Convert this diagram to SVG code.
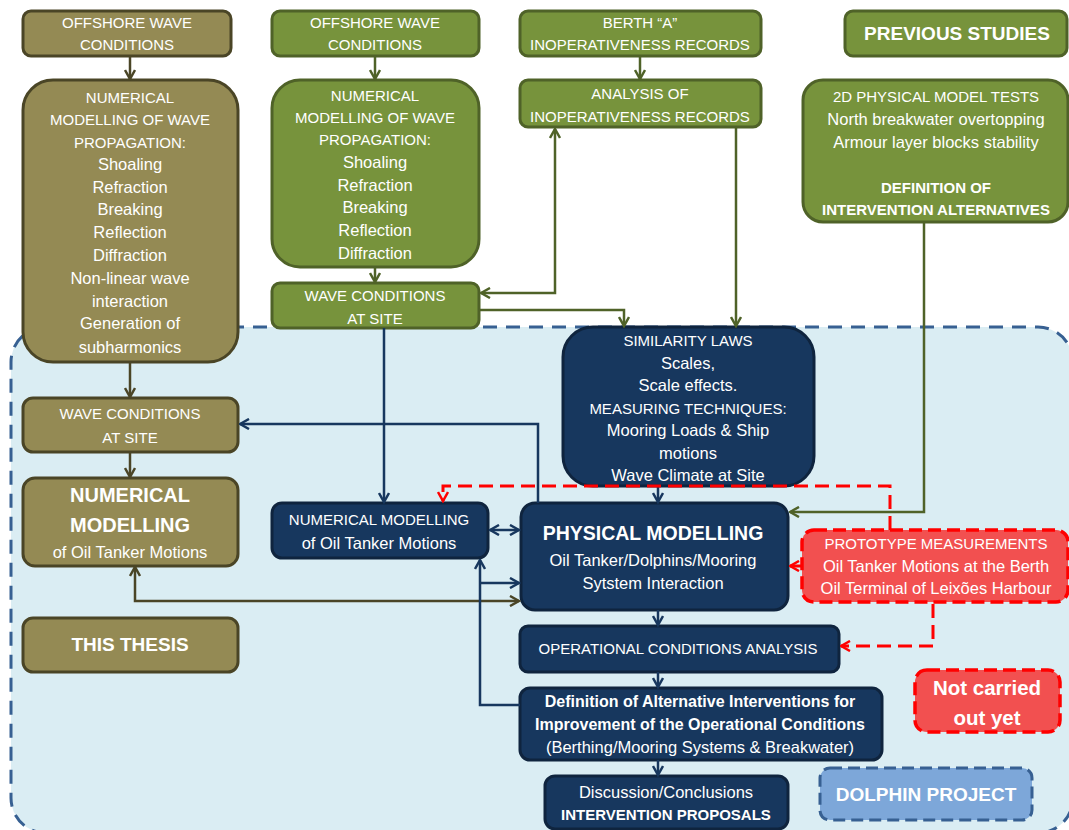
<svg xmlns="http://www.w3.org/2000/svg" width="1069" height="830" viewBox="0 0 1069 830">
<style>
text{font-family:"Liberation Sans",Arial,sans-serif;fill:#FFFFFF;text-anchor:middle;dominant-baseline:central;font-size:15px}
.b{font-weight:bold}
.l{font-size:16.5px}
.ol{fill:#948A54;stroke:#4A4526;stroke-width:3}
.gr{fill:#77933C;stroke:#4F6228;stroke-width:3}
.nv{fill:#17375E;stroke:#0F243E;stroke-width:3}
.rd{fill:#F25050;stroke:#FF0000;stroke-width:3.5;stroke-dasharray:13 6}
.bl{fill:#7DA7D9;stroke:#376092;stroke-width:3;stroke-dasharray:12 6}
.co{fill:none;stroke:#4A4526;stroke-width:2.5}
.cg{fill:none;stroke:#4F6228;stroke-width:2.5}
.cn{fill:none;stroke:#17375E;stroke-width:2.5}
.cr{fill:none;stroke:#FF0000;stroke-width:3;stroke-dasharray:14 7}
</style>
<defs>
<marker id="mo" viewBox="0 0 12 12" refX="10.5" refY="6" markerWidth="12" markerHeight="12" markerUnits="userSpaceOnUse" orient="auto-start-reverse"><path d="M1.5,1 L10.5,6 L1.5,11" fill="none" stroke="#4A4526" stroke-width="2.5"/></marker>
<marker id="mg" viewBox="0 0 12 12" refX="10.5" refY="6" markerWidth="12" markerHeight="12" markerUnits="userSpaceOnUse" orient="auto-start-reverse"><path d="M1.5,1 L10.5,6 L1.5,11" fill="none" stroke="#4F6228" stroke-width="2.5"/></marker>
<marker id="mn" viewBox="0 0 12 12" refX="10.5" refY="6" markerWidth="12" markerHeight="12" markerUnits="userSpaceOnUse" orient="auto-start-reverse"><path d="M1.5,1 L10.5,6 L1.5,11" fill="none" stroke="#17375E" stroke-width="2.5"/></marker>
<marker id="mr" viewBox="0 0 12 12" refX="10.5" refY="6" markerWidth="12" markerHeight="12" markerUnits="userSpaceOnUse" orient="auto-start-reverse"><path d="M1.5,1 L10.5,6 L1.5,11" fill="none" stroke="#FF0000" stroke-width="2.5"/></marker>
</defs>
<rect width="1069" height="830" fill="#FFFFFF"/>
<rect id="dolphin-area" x="11" y="327" width="1062" height="506" rx="35" fill="#DAEDF3" stroke="#376092" stroke-width="3" stroke-dasharray="14 9"/>

<g id="n-offshore-olive"><rect class="ol" x="23" y="11" width="208" height="45" rx="8"/><text x="127" y="22">OFFSHORE WAVE</text><text x="127" y="44">CONDITIONS</text></g>
<g id="n-nummod-wave-olive"><rect class="ol" x="23" y="80" width="215" height="282" rx="30"/>
<text x="130" y="97">NUMERICAL</text><text x="130" y="119">MODELLING OF WAVE</text><text x="130" y="142">PROPAGATION:</text><text class="l" x="130" y="164">Shoaling</text><text class="l" x="130" y="187">Refraction</text><text class="l" x="130" y="209">Breaking</text><text class="l" x="130" y="232">Reflection</text><text class="l" x="130" y="255">Diffraction</text><text class="l" x="130" y="278">Non-linear wave</text><text class="l" x="130" y="301">interaction</text><text class="l" x="130" y="323">Generation of</text><text class="l" x="130" y="347">subharmonics</text></g>
<g id="n-wavesite-olive"><rect class="ol" x="23" y="398" width="215" height="54" rx="10"/><text x="130" y="413">WAVE CONDITIONS</text><text x="130" y="437">AT SITE</text></g>
<g id="n-nummod-tanker-olive"><rect class="ol" x="23" y="478" width="215" height="88" rx="12"/><text class="b" x="130" y="495" style="font-size:20px">NUMERICAL</text><text class="b" x="130" y="525" style="font-size:20px">MODELLING</text><text class="l" x="130" y="552">of Oil Tanker Motions</text></g>
<g id="n-thesis"><rect class="ol" x="23" y="618" width="215" height="54" rx="10"/><text class="b" x="130" y="644" style="font-size:19px">THIS THESIS</text></g>

<g id="n-offshore-green"><rect class="gr" x="272" y="11" width="207" height="45" rx="8"/><text x="375" y="22">OFFSHORE WAVE</text><text x="375" y="44">CONDITIONS</text></g>
<g id="n-nummod-wave-green"><rect class="gr" x="272" y="80" width="207" height="187" rx="28"/>
<text x="375" y="95">NUMERICAL</text><text x="375" y="117">MODELLING OF WAVE</text><text x="375" y="139">PROPAGATION:</text><text class="l" x="375" y="162">Shoaling</text><text class="l" x="375" y="185">Refraction</text><text class="l" x="375" y="207">Breaking</text><text class="l" x="375" y="230">Reflection</text><text class="l" x="375" y="253">Diffraction</text></g>
<g id="n-wavesite-green"><rect class="gr" x="272" y="283" width="207" height="45" rx="8"/><text x="375" y="295">WAVE CONDITIONS</text><text x="375" y="318">AT SITE</text></g>
<g id="n-berth"><rect class="gr" x="520" y="11" width="241" height="45" rx="8"/><text x="640" y="22">BERTH “A”</text><text x="640" y="44">INOPERATIVENESS RECORDS</text></g>
<g id="n-analysis"><rect class="gr" x="520" y="80" width="241" height="47" rx="8"/><text x="640" y="93">ANALYSIS OF</text><text x="640" y="116">INOPERATIVENESS RECORDS</text></g>
<g id="n-previous"><rect class="gr" x="845" y="11" width="222" height="45" rx="8"/><text class="b" x="957" y="33" style="font-size:19px">PREVIOUS STUDIES</text></g>
<g id="n-2d"><rect class="gr" x="803" y="80" width="265" height="142" rx="20"/><text x="936" y="96">2D PHYSICAL MODEL TESTS</text><text class="l" x="936" y="119">North breakwater  overtopping</text><text class="l" x="936" y="142">Armour layer blocks stability</text><text class="b" x="936" y="187">DEFINITION OF</text><text class="b" x="936" y="209">INTERVENTION ALTERNATIVES</text></g>

<g id="n-similarity"><rect class="nv" x="563" y="327" width="251" height="159" rx="30"/><text x="688" y="340">SIMILARITY  LAWS</text><text class="l" x="688" y="363">Scales,</text><text class="l" x="688" y="385">Scale effects.</text><text x="688" y="408">MEASURING TECHNIQUES:</text><text class="l" x="688" y="430">Mooring Loads &amp; Ship</text><text class="l" x="688" y="453">motions</text><text class="l" x="688" y="475">Wave Climate at Site</text></g>
<g id="n-physical"><rect class="nv" x="521" y="503" width="267" height="107" rx="14"/><text class="b" x="653" y="533" style="font-size:19.5px">PHYSICAL MODELLING</text><text class="l" x="653" y="560">Oil Tanker/Dolphins/Mooring</text><text class="l" x="653" y="583">Sytstem Interaction</text></g>
<g id="n-nummod-tanker-navy"><rect class="nv" x="272" y="503" width="216" height="55" rx="10"/><text x="379" y="519">NUMERICAL MODELLING</text><text class="l" x="379" y="543">of Oil Tanker Motions</text></g>
<g id="n-operational"><rect class="nv" x="520" y="626" width="319" height="46" rx="8"/><text x="678" y="648">OPERATIONAL CONDITIONS ANALYSIS</text></g>
<g id="n-definition"><rect class="nv" x="520" y="688" width="362" height="72" rx="10"/><text class="b" x="700" y="701" style="font-size:16px">Definition of Alternative Interventions for</text><text class="b" x="700" y="724" style="font-size:16px">Improvement of the Operational Conditions</text><text class="l" x="700" y="747">(Berthing/Mooring Systems &amp; Breakwater)</text></g>
<g id="n-discussion"><rect class="nv" x="545" y="776" width="243" height="53" rx="10"/><text class="l" x="666" y="792">Discussion/Conclusions</text><text class="b" x="666" y="814">INTERVENTION PROPOSALS</text></g>

<g id="n-prototype"><rect class="rd" x="802" y="530" width="266" height="72" rx="12"/><text x="936" y="543">PROTOTYPE MEASUREMENTS</text><text class="l" x="936" y="566">Oil Tanker Motions at the Berth</text><text class="l" x="936" y="588">Oil Terminal of Leixões Harbour</text></g>
<g id="n-notcarried"><rect class="rd" x="915" y="670" width="145" height="62" rx="12"/><text class="b" x="987" y="687" style="font-size:20.5px">Not carried</text><text class="b" x="987" y="717" style="font-size:20.5px">out yet</text></g>
<g id="n-dolphin"><rect class="bl" x="820" y="768" width="212" height="52" rx="10"/><text class="b" x="926" y="794" style="font-size:19px">DOLPHIN PROJECT</text></g>

<g id="connectors">
<path class="co" d="M130,56 V79" marker-end="url(#mo)"/>
<path class="co" d="M130,362 V397" marker-end="url(#mo)"/>
<path class="co" d="M130,452 V477" marker-end="url(#mo)"/>
<path class="co" d="M135,567 V601 H519" marker-start="url(#mo)" marker-end="url(#mo)"/>
<path class="cg" d="M375,56 V79" marker-end="url(#mg)"/>
<path class="cg" d="M375,267 V282" marker-end="url(#mg)"/>
<path class="cg" d="M640,56 V79" marker-end="url(#mg)"/>
<path class="cg" d="M555,129 V293 H481" marker-start="url(#mg)" marker-end="url(#mg)"/>
<path class="cg" d="M479,310 H624 V326" marker-end="url(#mg)"/>
<path class="cg" d="M736,127 V326" marker-end="url(#mg)"/>
<path class="cg" d="M924,222 V512 H790" marker-end="url(#mg)"/>
<path class="cn" d="M384,328 V502" marker-end="url(#mn)"/>
<path class="cn" d="M538,503 V424 H240" marker-end="url(#mn)"/>
<path class="cn" d="M658,486 V502" marker-end="url(#mn)"/>
<path class="cn" d="M490,530 H519" marker-start="url(#mn)" marker-end="url(#mn)"/>
<path class="cn" d="M520,705 H480 V560" marker-end="url(#mn)"/>
<path class="cn" d="M480,583 H519" marker-end="url(#mn)"/>
<path class="cn" d="M658,610 V625" marker-end="url(#mn)"/>
<path class="cn" d="M658,672 V687" marker-end="url(#mn)"/>
<path class="cn" d="M658,760 V775" marker-end="url(#mn)"/>
<path class="cr" d="M890,530 V486 H443 V501" marker-end="url(#mr)"/>
<path class="cr" d="M801,566 H790" marker-end="url(#mr)"/>
<path class="cr" d="M933,604 V646 H841" marker-end="url(#mr)"/>
</g>
</svg>
